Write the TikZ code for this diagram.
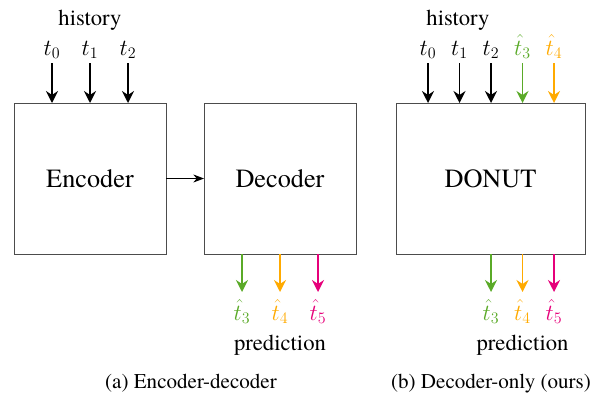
\documentclass[tikz,border=0pt]{standalone}
\usepackage{fontspec}
\setmainfont{TeX Gyre Termes}
\usetikzlibrary{arrows.meta,calc}
\definecolor{cgreen}{RGB}{90,170,40}
\definecolor{corange}{RGB}{255,170,0}
\definecolor{cmag}{RGB}{230,0,122}
\tikzset{
  box/.style={draw=black!70, line width=0.6pt, inner sep=0pt, outer sep=0pt,
    minimum width=114pt, minimum height=113.25pt, font=\fontsize{19.7}{22}\selectfont},
  lbl/.style={anchor=base, inner sep=0pt, font=\fontsize{18.7}{21}\selectfont},
  word/.style={anchor=base, inner sep=0pt, font=\fontsize{17}{20}\selectfont},
  capt/.style={anchor=base, inner sep=0pt, font=\fontsize{15.8}{18}\selectfont},
  varr/.style={line width=1.2pt, -{Stealth[length=9pt,width=9pt,inset=3pt]}},
  harr/.style={line width=0.75pt, -{Stealth[length=8pt,width=6pt,inset=2.5pt]}}
}
\begin{document}
\begin{tikzpicture}[x=0.75pt,y=-0.75pt]
\useasboundingbox (0,0) rectangle (598,396);
% boxes
\node[box] (enc) at (90,178.5) {Encoder};
\node[box] (dec) at (280,178.5) {Decoder};
\node[box, minimum width=141.75pt] (don) at (490.5,178.5) {DONUT};
\draw[harr] (enc.east) -- (dec.west);
% left history
\node[word] (hl) at (90,25) {history};
\node[lbl] (a0) at (52,55) {$t_0$};
\node[lbl] (a1) at (90,55) {$t_1$};
\node[lbl] (a2) at (128,55) {$t_2$};
\foreach \n in {a0,a1,a2}
  \draw[varr] ($(\n.base)+(0,8)$) -- (\n.base |- enc.north);
% left prediction
\node[lbl, text=cgreen] (p3) at (242,320) {$\hat{t}_3$};
\node[lbl, text=corange] (p4) at (280,320) {$\hat{t}_4$};
\node[lbl, text=cmag] (p5) at (318,320) {$\hat{t}_5$};
\draw[varr, cgreen] (p3.base |- dec.south) -- ($(p3.base)+(0,-28)$);
\draw[varr, corange] (p4.base |- dec.south) -- ($(p4.base)+(0,-28)$);
\draw[varr, cmag] (p5.base |- dec.south) -- ($(p5.base)+(0,-28)$);
\node[word] (pl) at (280,350) {prediction};
\node[capt] (ca) at (191,388) {(a) Encoder-decoder};
% right history
\node[word] (hr) at (458,25) {history};
\node[lbl] (b0) at (428,55) {$t_0$};
\node[lbl] (b1) at (459.5,55) {$t_1$};
\node[lbl] (b2) at (491,55) {$t_2$};
\node[lbl, text=cgreen] (b3) at (522.5,55) {$\hat{t}_3$};
\node[lbl, text=corange] (b4) at (554,55) {$\hat{t}_4$};
\foreach \n in {b0,b1,b2}
  \draw[varr] ($(\n.base)+(0,8)$) -- (\n.base |- don.north);
\draw[varr, cgreen] ($(b3.base)+(0,8)$) -- (b3.base |- don.north);
\draw[varr, corange] ($(b4.base)+(0,8)$) -- (b4.base |- don.north);
% right prediction
\node[lbl, text=cgreen] (q3) at (491,320) {$\hat{t}_3$};
\node[lbl, text=corange] (q4) at (522.5,320) {$\hat{t}_4$};
\node[lbl, text=cmag] (q5) at (554,320) {$\hat{t}_5$};
\draw[varr, cgreen] (q3.base |- don.south) -- ($(q3.base)+(0,-28)$);
\draw[varr, corange] (q4.base |- don.south) -- ($(q4.base)+(0,-28)$);
\draw[varr, cmag] (q5.base |- don.south) -- ($(q5.base)+(0,-28)$);
\node[word] (pr) at (522.5,350) {prediction};
\node[capt] (cb) at (491,388) {(b) Decoder-only (ours)};
\end{tikzpicture}
\end{document}
